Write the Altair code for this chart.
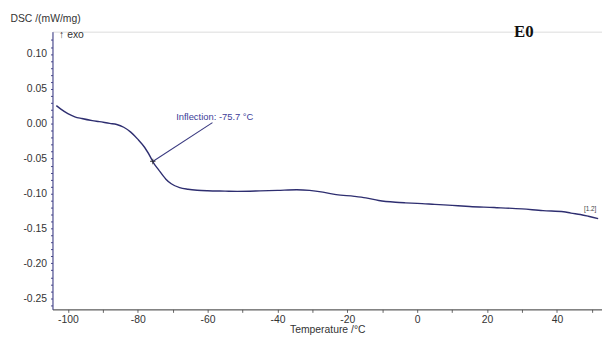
import altair as alt
import pandas as pd

temperature = [-103.3, -102, -100, -98, -96, -93, -91, -88, -86, -84, -82, -80, -78, -76,
               -75.7, -74, -72, -70.4, -68, -65.6, -63, -60, -55, -51.5, -45, -40, -34.5,
               -30.8, -27, -23.2, -18, -14.7, -11, -6.2, -3.4, 0, 5, 10, 15, 22, 30, 36,
               41.9, 44, 46.7, 49, 51.8]
dsc = [0.026, 0.021, 0.0146, 0.010, 0.0075, 0.0045, 0.003, 0.0005, -0.001, -0.005, -0.012,
       -0.022, -0.034, -0.051, -0.054, -0.066, -0.079, -0.086, -0.0915, -0.0938, -0.0952,
       -0.096, -0.0965, -0.0968, -0.0962, -0.0955, -0.0946, -0.0955, -0.098, -0.1016,
       -0.104, -0.1062, -0.110, -0.1125, -0.1133, -0.114, -0.1155, -0.117, -0.1185, -0.120,
       -0.122, -0.1245, -0.126, -0.128, -0.130, -0.1325, -0.136]

x_ticks = list(range(-100, 51, 10))
y_ticks = [round(-0.26 + 0.01 * i, 2) for i in range(39)]

inflection_t = [-75.7]
inflection_v = [-0.054]
leader_t = [-75.7, -58.6]
leader_v = [-0.054, 0.0017]

df = pd.DataFrame({"t": temperature, "v": dsc})

xscale = alt.Scale(domain=[-104.4, 52.9], nice=False, zero=False)
yscale = alt.Scale(domain=[-0.266, 0.132], nice=False, zero=False)

x_axis = alt.Axis(values=x_ticks, title="Temperature /°C",
                  labelExpr="datum.value % 20 == 0 ? toString(datum.value) : ''",
                  labelOverlap=False, labelFlush=False,
                  grid=False, domainColor="#444", tickColor="#666",
                  tickSize=3, labelColor="#333", labelFontSize=10.5,
                  labelFont="Liberation Sans", titleFont="Liberation Sans",
                  titleFontSize=10.5, titleFontWeight="normal", titleColor="#333",
                  titlePadding=0, labelPadding=2)
y_axis = alt.Axis(values=y_ticks, title="DSC /(mW/mg)",
                  labelExpr="abs(round(datum.value*100)) % 5 == 0 ? replace(format(datum.value, '.2f'), '\u2212', '-') : ''",
                  labelOverlap=False, labelFlush=False,
                  grid=False, domainColor="#3a3a8a", tickColor="#4a4a8a",
                  tickSize=2, labelColor="#333", labelFontSize=10.5,
                  labelFont="Liberation Sans", titleFont="Liberation Sans",
                  titleFontSize=10.5, titleFontWeight="normal", titleColor="#333",
                  titleAngle=0, titleAlign="left", titleBaseline="middle",
                  titleX=-43, titleY=-13, labelPadding=4)

X = alt.X("t:Q", scale=xscale, axis=x_axis)
Y = alt.Y("v:Q", scale=yscale, axis=y_axis)

line = alt.Chart(df).mark_line(color="#2e2e70", strokeWidth=1.4, interpolate="monotone").encode(x=X, y=Y)

leader = alt.Chart(pd.DataFrame({"t": leader_t, "v": leader_v})).mark_line(
    color="#3a3a80", strokeWidth=1.1).encode(x=X, y=Y)

cross = alt.Chart(pd.DataFrame({"t": inflection_t, "v": inflection_v})).mark_point(
    shape="M-1,0L1,0M0,-1L0,1", size=30, color="#222", strokeWidth=1.2, filled=False).encode(x=X, y=Y)

labels = pd.DataFrame({
    "t": [-69.0, 49.5, -102.5, 30.5],
    "v": [0.010, -0.1215, 0.127, 0.131],
    "txt": ["Inflection: -75.7 °C", "[1.2]", "↑ exo", "E0"],
})

infl_text = alt.Chart(labels.iloc[[0]]).mark_text(
    align="left", baseline="middle", fontSize=9.5, font="Liberation Sans", color="#3d3d99").encode(
    x=X, y=Y, text="txt:N")

small_text = alt.Chart(labels.iloc[[1]]).mark_text(
    align="center", baseline="middle", fontSize=6.5, font="Liberation Sans", color="#444").encode(
    x=X, y=Y, text="txt:N")

exo_text = alt.Chart(labels.iloc[[2]]).mark_text(
    align="left", baseline="middle", fontSize=10.5, font="Liberation Sans", color="#333").encode(
    x=X, y=Y, text="txt:N")

e0_text = alt.Chart(labels.iloc[[3]]).mark_text(
    align="center", baseline="middle", fontSize=17, font="Liberation Serif", fontWeight="bold",
    color="#111").encode(x=X, y=Y, text="txt:N")

chart = alt.layer(line, leader, cross, infl_text, small_text, exo_text, e0_text).properties(
    width=556, height=281,
    autosize=alt.AutoSizeParams(type="none"),
    padding={"left": 45, "top": 22, "right": 0, "bottom": 27},
).configure_view(stroke=None).configure(background="white")

chart.save("out.html", embed_options={"renderer": "svg", "actions": False})
